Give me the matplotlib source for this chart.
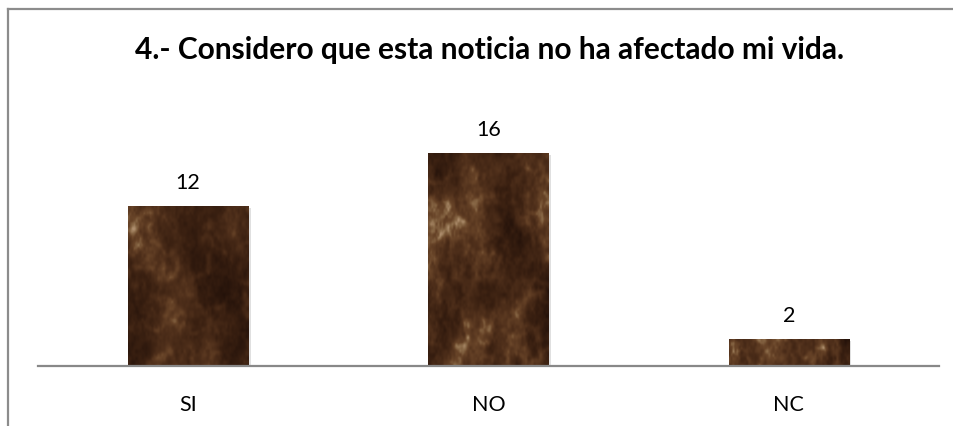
import numpy as np
import matplotlib
matplotlib.use("Agg")
import matplotlib.pyplot as plt
from matplotlib.colors import LinearSegmentedColormap
from matplotlib.lines import Line2D

categories = ["SI", "NO", "NC"]
values = [12, 16, 2]
title = "4.- Considero que esta noticia no ha afectado mi vida."

plt.rcParams["font.family"] = ["Lato", "DejaVu Sans"]

fig = plt.figure(figsize=(9.54, 4.27), dpi=100)
ax = fig.add_axes([38 / 954, 1 - 367 / 427, 901 / 954, (367 - 127.6) / 427])

x = np.arange(len(categories))
bars = ax.bar(x, values, width=0.40, color="#4a2c18", zorder=2)
ax.set_xlim(-0.5, len(categories) - 0.5)
ax.set_ylim(0, 18)


def noise(h, w, rng, octaves=(3, 6, 12, 24, 48), falloff=0.55):
    img = np.zeros((h, w))
    amp = 1.0
    for cells in octaves:
        g = rng.random((cells + 1, cells + 1))
        yi = np.linspace(0, cells, h)
        xi = np.linspace(0, cells, w)
        y0 = np.floor(yi).astype(int).clip(0, cells - 1)
        x0 = np.floor(xi).astype(int).clip(0, cells - 1)
        fy = (yi - y0)[:, None]
        fx = (xi - x0)[None, :]
        fy = fy * fy * (3 - 2 * fy)
        fx = fx * fx * (3 - 2 * fx)
        a = g[y0][:, x0]
        b = g[y0][:, x0 + 1]
        c = g[y0 + 1][:, x0]
        d = g[y0 + 1][:, x0 + 1]
        img += amp * ((a * (1 - fx) + b * fx) * (1 - fy) + (c * (1 - fx) + d * fx) * fy)
        amp *= falloff
    return (img - img.min()) / (img.max() - img.min())


def box_blur(a, r):
    k = np.ones(2 * r + 1) / (2 * r + 1)
    a = np.apply_along_axis(lambda v: np.convolve(np.pad(v, r, mode="edge"), k, "valid"), 0, a)
    a = np.apply_along_axis(lambda v: np.convolve(np.pad(v, r, mode="edge"), k, "valid"), 1, a)
    return a


# brown marble fill for the bars
def marble(h, w, seed):
    rng = np.random.default_rng(seed)
    base = noise(h, w, rng)
    warp = noise(h, w, rng, octaves=(4, 8, 16, 32))
    veins = 1 - np.abs(np.sin(warp * 7.0 + base * 3.0))
    veins = box_blur(veins ** 4, 2)
    speck = noise(h, w, rng, octaves=(30, 60), falloff=0.8)
    tex = 0.6 * base + 0.22 * veins + 0.18 * speck
    return (tex - tex.min()) / (tex.max() - tex.min())


cmap = LinearSegmentedColormap.from_list(
    "marble", [(0.0, "#24120a"), (0.3, "#3a2011"), (0.55, "#50301b"),
               (0.75, "#684428"), (0.9, "#8a6a48"), (1.0, "#b09070")])

for i, bar in enumerate(bars):
    bx, by = bar.get_x(), bar.get_y()
    bw, bh = bar.get_width(), bar.get_height()
    # soft drop shadow
    ax.bar(x[i] + 0.008, values[i], width=0.40, bottom=-0.15, color="#000000",
           alpha=0.12, zorder=1.5)
    tex = marble(240, 120, 11 + i)
    rows = max(2, int(240 * bh / 16))
    im = ax.imshow(tex[:rows], cmap=cmap, extent=(bx, bx + bw, by, by + bh),
                   aspect="auto", origin="lower", zorder=3, interpolation="bilinear")
    im.set_clip_path(bar)
    ax.text(bar.get_x() + bw / 2, bh + 1.1, str(values[i]), ha="center", va="bottom",
            fontsize=15.5, color="#000000")

ax.set_aspect("auto")
ax.set_xlim(-0.5, len(categories) - 0.5)
ax.set_ylim(0, 18)

for s in ("top", "right", "left"):
    ax.spines[s].set_visible(False)
ax.spines["bottom"].set_color("#888888")
ax.spines["bottom"].set_linewidth(1.6)
ax.spines["bottom"].set_zorder(4)
ax.set_yticks([])
ax.set_xticks(x)
ax.set_xticklabels(categories, fontsize=15.5)
ax.tick_params(axis="x", length=0, pad=20)

fig.text(490 / 954, 1 - 50 / 427, title, ha="center", va="center",
         fontsize=21.5, fontweight="bold")

# chart frame (left and top edges)
fig.add_artist(Line2D([8 / 954, 8 / 954], [0, 1 - 10 / 427], color="#8c8c8c",
                      lw=1.6, transform=fig.transFigure))
fig.add_artist(Line2D([8 / 954, 1], [1 - 10 / 427, 1 - 10 / 427], color="#8c8c8c",
                      lw=1.6, transform=fig.transFigure))

fig.savefig("out.png", dpi=100)
